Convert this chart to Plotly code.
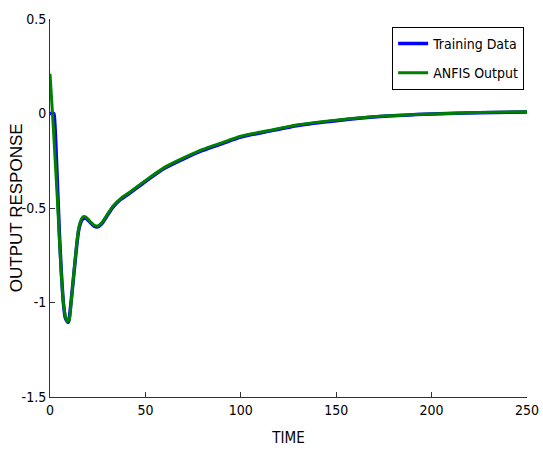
import plotly.graph_objects as go

# Training data (blue)
t_train = [0, 1, 2, 2.5, 3, 4, 5, 6, 7, 8, 9, 9.5, 10, 11, 12, 13, 14, 15, 16, 17, 18, 19, 20, 21, 23, 25, 27,
           30, 33, 37, 42, 50, 60, 70, 80, 90, 100, 115, 130, 150, 175, 200, 225, 250]
y_train = [0, 0, 0, -0.05, -0.15, -0.4, -0.65, -0.85, -1.0, -1.08, -1.10, -1.105, -1.09, -1.0, -0.9, -0.8,
           -0.7, -0.62, -0.58, -0.56, -0.555, -0.555, -0.565, -0.575, -0.595, -0.6, -0.585,
           -0.54, -0.495, -0.455, -0.42, -0.36, -0.29, -0.24, -0.195, -0.16, -0.125, -0.093, -0.063,
           -0.038, -0.015, -0.003, 0.004, 0.008]

# ANFIS output (green)
t_anfis = [0, 1, 2, 3, 4, 5, 6, 7, 8, 9, 10, 11, 12, 13, 14, 15, 16, 17, 18, 19, 20, 21, 23, 25, 27,
           30, 33, 37, 42, 50, 60, 70, 80, 90, 100, 115, 130, 150, 175, 200, 225, 250]
y_anfis = [0.21, 0.05, -0.12, -0.3, -0.48, -0.68, -0.86, -1.0, -1.07, -1.1, -1.095, -1.01, -0.9, -0.79,
           -0.69, -0.61, -0.57, -0.55, -0.545, -0.55, -0.56, -0.572, -0.59, -0.595, -0.58,
           -0.535, -0.49, -0.45, -0.415, -0.355, -0.285, -0.235, -0.19, -0.155, -0.12, -0.09, -0.06,
           -0.035, -0.013, -0.002, 0.005, 0.009]

x_ticks = [0, 50, 100, 150, 200, 250]
y_ticks = [-1.5, -1, -0.5, 0, 0.5]
y_tick_labels = ["-1.5", "-1", "-0.5", "0", "0.5"]

narrow = "DejaVu Sans Condensed, Liberation Sans Narrow, sans-serif"

fig = go.Figure()
fig.add_trace(go.Scatter(x=t_train, y=y_train, mode="lines", name="Training Data", legendgroup="a",
                         line=dict(color="#0000FF", width=3.5, shape="spline", smoothing=0.6)))
fig.add_trace(go.Scatter(x=t_anfis, y=y_anfis, mode="lines", name="ANFIS Output", legendgroup="b",
                         line=dict(color="#008000", width=3, shape="spline", smoothing=0.6)))

fig.update_layout(
    width=543, height=453,
    margin=dict(l=50, r=16, t=19, b=56),
    paper_bgcolor="white", plot_bgcolor="white",
    font=dict(family=narrow, size=13, color="black"),
    showlegend=True,
    legend=dict(x=0.994, y=0.979, xanchor="right", yanchor="top",
                bgcolor="white", bordercolor="black", borderwidth=1,
                font=dict(family=narrow, size=14, color="black"),
                tracegroupgap=8, itemwidth=30),
    xaxis=dict(range=[0, 250], tickvals=x_ticks, ticks="inside", ticklen=5,
               showline=True, linecolor="#333333", linewidth=1, tickcolor="#333333",
               showgrid=False, zeroline=False, automargin=False,
               title=dict(text="TIME", font=dict(family=narrow, size=15)),
               tickfont=dict(family=narrow, size=14)),
    yaxis=dict(range=[-1.5, 0.5], tickvals=y_ticks, ticktext=y_tick_labels,
               ticks="inside", ticklen=5,
               showline=True, linecolor="#333333", linewidth=1, tickcolor="#333333",
               showgrid=False, zeroline=False, automargin=False,
               tickfont=dict(family=narrow, size=14)),
    annotations=[dict(text="OUTPUT RESPONSE", textangle=-90, xref="paper", yref="paper",
                      x=-0.071, y=0.50, xanchor="center", yanchor="middle", showarrow=False,
                      font=dict(family="Liberation Sans, Arial, sans-serif", size=17, color="black"))],
)

fig.write_html("out.html", config={"displayModeBar": False},
               post_script="document.body.style.margin='0';document.body.style.overflow='hidden';")
